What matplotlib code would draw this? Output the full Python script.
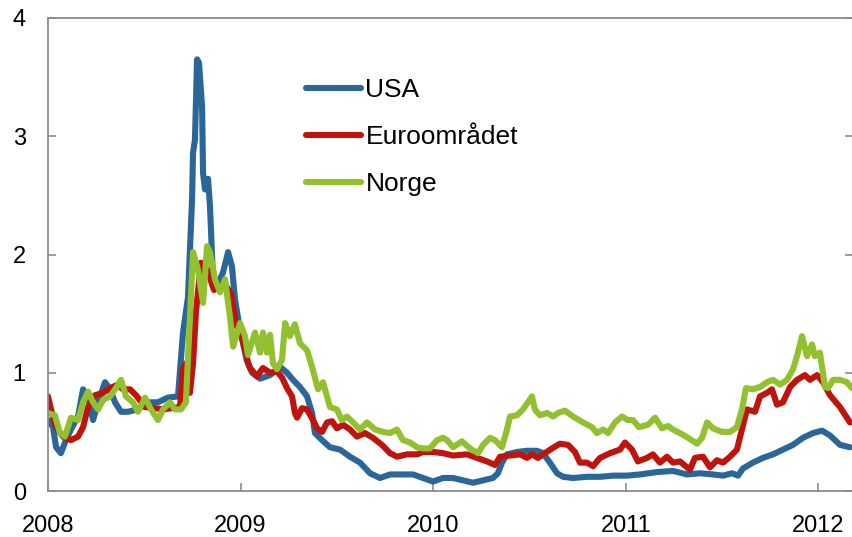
import matplotlib
matplotlib.use("Agg")
import matplotlib.pyplot as plt

plt.rcParams['font.family'] = ['Liberation Sans', 'DejaVu Sans']

# ---- data (fractional years, values) ----
usa_t = [2008.000, 2008.026, 2008.042, 2008.067, 2008.088, 2008.119, 2008.156, 2008.182, 2008.208, 2008.234,
         2008.260, 2008.296, 2008.322, 2008.348, 2008.379, 2008.415, 2008.467, 2008.519, 2008.571, 2008.623,
         2008.675, 2008.701, 2008.727, 2008.748, 2008.753, 2008.763, 2008.774, 2008.784, 2008.800, 2008.805,
         2008.815, 2008.831, 2008.841, 2008.852, 2008.857, 2008.877, 2008.893, 2008.909, 2008.935, 2008.955,
         2008.971, 2008.997,
         2009.033, 2009.059, 2009.101, 2009.153, 2009.205, 2009.241, 2009.272, 2009.308, 2009.345, 2009.371,
         2009.386, 2009.423, 2009.464, 2009.516, 2009.568, 2009.620, 2009.672, 2009.724, 2009.776, 2009.843,
         2009.895, 2009.947, 2009.999,
         2010.051, 2010.103, 2010.155, 2010.207, 2010.259, 2010.310, 2010.336, 2010.357, 2010.383, 2010.435,
         2010.487, 2010.539, 2010.570, 2010.606, 2010.643, 2010.674, 2010.726, 2010.798, 2010.866, 2010.933,
         2011.006, 2011.074, 2011.162, 2011.245, 2011.318, 2011.385, 2011.453, 2011.505, 2011.551, 2011.583,
         2011.608, 2011.660, 2011.712, 2011.764, 2011.816, 2011.868, 2011.920, 2011.972,
         2012.019, 2012.060, 2012.112, 2012.164]
usa_v = [0.60, 0.54, 0.37, 0.32, 0.41, 0.52, 0.63, 0.86, 0.80, 0.60,
         0.75, 0.92, 0.86, 0.75, 0.67, 0.67, 0.69, 0.75, 0.75, 0.79,
         0.80, 1.34, 1.64, 2.47, 2.86, 2.97, 3.65, 3.62, 3.25, 2.69,
         2.55, 2.64, 2.41, 1.98, 1.79, 1.73, 1.79, 1.85, 2.02, 1.90,
         1.62, 1.36,
         1.10, 1.00, 0.95, 0.98, 1.05, 1.00, 0.94, 0.88, 0.80, 0.66,
         0.49, 0.43, 0.37, 0.35, 0.29, 0.24, 0.15, 0.11, 0.14, 0.14,
         0.14, 0.11, 0.08,
         0.11, 0.11, 0.09, 0.07, 0.09, 0.11, 0.15, 0.24, 0.31, 0.33,
         0.34, 0.34, 0.32, 0.24, 0.15, 0.12, 0.11, 0.12, 0.12, 0.13,
         0.13, 0.14, 0.16, 0.17, 0.14, 0.15, 0.14, 0.13, 0.15, 0.13,
         0.19, 0.24, 0.28, 0.31, 0.35, 0.39, 0.45, 0.49,
         0.51, 0.47, 0.39, 0.37]

euro_t = [2008.000, 2008.016, 2008.042, 2008.078, 2008.119, 2008.156, 2008.182, 2008.208, 2008.244, 2008.286,
          2008.322, 2008.363, 2008.389, 2008.426, 2008.457, 2008.504, 2008.556, 2008.597, 2008.639, 2008.685,
          2008.701, 2008.716, 2008.737, 2008.753, 2008.768, 2008.794, 2008.826, 2008.862, 2008.914, 2008.950,
          2008.976,
          2009.012, 2009.038, 2009.049, 2009.085, 2009.116, 2009.153, 2009.189, 2009.215, 2009.241, 2009.267,
          2009.282, 2009.293, 2009.319, 2009.345, 2009.376, 2009.397, 2009.423, 2009.449, 2009.475, 2009.500,
          2009.532, 2009.568, 2009.604, 2009.646, 2009.687, 2009.734, 2009.776, 2009.812, 2009.864, 2009.916,
          2009.947, 2009.999,
          2010.051, 2010.103, 2010.175, 2010.227, 2010.279, 2010.321, 2010.347, 2010.399, 2010.451, 2010.487,
          2010.513, 2010.544, 2010.580, 2010.617, 2010.658, 2010.700, 2010.736, 2010.762, 2010.798, 2010.830,
          2010.866, 2010.918, 2010.970, 2010.996,
          2011.032, 2011.063, 2011.110, 2011.141, 2011.177, 2011.214, 2011.245, 2011.281, 2011.333, 2011.359,
          2011.401, 2011.437, 2011.473, 2011.505, 2011.541, 2011.577, 2011.603, 2011.629, 2011.671, 2011.697,
          2011.733, 2011.759, 2011.785, 2011.816, 2011.853, 2011.889, 2011.930, 2011.956, 2011.993,
          2012.024, 2012.060, 2012.112, 2012.164]
euro_v = [0.80, 0.69, 0.54, 0.46, 0.43, 0.46, 0.54, 0.71, 0.81, 0.83,
          0.87, 0.90, 0.86, 0.86, 0.81, 0.71, 0.70, 0.69, 0.70, 0.71,
          1.03, 1.08, 0.83, 1.08, 1.51, 1.93, 1.87, 1.70, 1.76, 1.67,
          1.41,
          1.27, 1.09, 1.04, 0.97, 1.04, 1.00, 1.01, 0.96, 0.87, 0.80,
          0.66, 0.62, 0.70, 0.69, 0.60, 0.53, 0.50, 0.58, 0.59, 0.53,
          0.56, 0.52, 0.46, 0.49, 0.45, 0.39, 0.32, 0.29, 0.31, 0.31,
          0.33, 0.33,
          0.32, 0.30, 0.31, 0.28, 0.25, 0.22, 0.29, 0.30, 0.31, 0.28,
          0.31, 0.28, 0.32, 0.36, 0.40, 0.39, 0.33, 0.24, 0.24, 0.21,
          0.28, 0.32, 0.35, 0.41,
          0.35, 0.25, 0.28, 0.31, 0.24, 0.29, 0.24, 0.25, 0.18, 0.28,
          0.29, 0.20, 0.26, 0.24, 0.29, 0.35, 0.52, 0.69, 0.67, 0.80,
          0.83, 0.86, 0.73, 0.75, 0.88, 0.94, 0.98, 0.94, 0.98,
          0.92, 0.81, 0.71, 0.58]

norge_t = [2008.000, 2008.036, 2008.062, 2008.088, 2008.119, 2008.156, 2008.182, 2008.208, 2008.234, 2008.260,
           2008.286, 2008.322, 2008.353, 2008.379, 2008.405, 2008.441, 2008.467, 2008.504, 2008.535, 2008.571,
           2008.597, 2008.633, 2008.659, 2008.691, 2008.716, 2008.737, 2008.753, 2008.779, 2008.805, 2008.826,
           2008.841, 2008.867, 2008.893, 2008.919, 2008.945, 2008.961, 2008.997,
           2009.023, 2009.038, 2009.075, 2009.101, 2009.116, 2009.137, 2009.153, 2009.168, 2009.189, 2009.215,
           2009.231, 2009.256, 2009.282, 2009.308, 2009.345, 2009.371, 2009.402, 2009.428, 2009.464, 2009.500,
           2009.526, 2009.552, 2009.584, 2009.620, 2009.656, 2009.698, 2009.739, 2009.776, 2009.812, 2009.843,
           2009.880, 2009.916, 2009.947, 2009.983,
           2010.020, 2010.051, 2010.072, 2010.103, 2010.149, 2010.191, 2010.233, 2010.259, 2010.295, 2010.321,
           2010.357, 2010.383, 2010.399, 2010.435, 2010.466, 2010.492, 2010.513, 2010.528, 2010.554, 2010.591,
           2010.622, 2010.648, 2010.684, 2010.726, 2010.778, 2010.824, 2010.850, 2010.882, 2010.908, 2010.944,
           2010.980,
           2011.011, 2011.037, 2011.068, 2011.115, 2011.152, 2011.188, 2011.219, 2011.245, 2011.281, 2011.323,
           2011.370, 2011.396, 2011.422, 2011.453, 2011.499, 2011.541, 2011.577, 2011.603, 2011.624, 2011.660,
           2011.697, 2011.733, 2011.764, 2011.801, 2011.837, 2011.868, 2011.889, 2011.915, 2011.941, 2011.967,
           2011.982,
           2012.008, 2012.034, 2012.050, 2012.076, 2012.112, 2012.148, 2012.174]
norge_v = [0.66, 0.64, 0.49, 0.46, 0.62, 0.60, 0.75, 0.84, 0.75, 0.69,
           0.77, 0.80, 0.87, 0.94, 0.80, 0.75, 0.67, 0.79, 0.69, 0.60,
           0.69, 0.75, 0.69, 0.69, 0.75, 1.47, 2.02, 1.87, 1.59, 2.07,
           2.02, 1.79, 1.68, 1.79, 1.47, 1.22, 1.42,
           1.31, 1.15, 1.34, 1.17, 1.34, 1.17, 1.32, 1.08, 1.03, 1.11,
           1.42, 1.31, 1.41, 1.25, 1.19, 1.05, 0.86, 0.92, 0.71, 0.69,
           0.60, 0.63, 0.58, 0.52, 0.58, 0.52, 0.50, 0.49, 0.52, 0.43,
           0.41, 0.37, 0.36, 0.36,
           0.43, 0.45, 0.43, 0.37, 0.42, 0.36, 0.32, 0.39, 0.45, 0.43,
           0.37, 0.52, 0.63, 0.64, 0.69, 0.75, 0.80, 0.69, 0.64, 0.66,
           0.63, 0.66, 0.68, 0.63, 0.58, 0.54, 0.49, 0.52, 0.49, 0.58,
           0.63,
           0.60, 0.60, 0.54, 0.56, 0.62, 0.53, 0.55, 0.52, 0.49, 0.45,
           0.40, 0.45, 0.58, 0.53, 0.50, 0.50, 0.54, 0.69, 0.87, 0.86,
           0.88, 0.92, 0.94, 0.90, 0.94, 1.03, 1.14, 1.31, 1.14, 1.24,
           1.14,
           1.17, 0.88, 0.87, 0.94, 0.94, 0.92, 0.87]

series_names = ["USA", "Euroområdet", "Norge"]
series_colors = ["#2B6698", "#C0130B", "#93C02E"]
x_ticks = [2008, 2009, 2010, 2011, 2012]
y_ticks = [0, 1, 2, 3, 4]

# ---- figure ----
fig = plt.figure(figsize=(8.52, 5.37), dpi=100)
ax = fig.add_axes([48 / 852, 46 / 537, 805 / 852, 473 / 537])

for t, v, name, col in zip([usa_t, euro_t, norge_t], [usa_v, euro_v, norge_v],
                           series_names, series_colors):
    ax.plot(t, v, color=col, lw=4.4, label=name, solid_joinstyle='round',
            solid_capstyle='round')

ax.set_xlim(2008, 2008 + 805 / 192.6)
ax.set_ylim(0, 4)
ax.set_xticks(x_ticks)
ax.set_xticklabels([str(x) for x in x_ticks])
ax.set_yticks(y_ticks)
ax.set_yticklabels([str(y) for y in y_ticks])

for s in ax.spines.values():
    s.set_color('#8C8C8C')
    s.set_linewidth(1.3)

ax.tick_params(axis='both', direction='in', length=6, width=1.2, color='#8C8C8C',
               labelsize=17, labelcolor='black')
ax.tick_params(axis='x', pad=17)
ax.tick_params(axis='y', pad=16, right=True)

leg = ax.legend(loc='upper left', bbox_to_anchor=(306 / 852, 1 - 78 / 537),
                bbox_transform=fig.transFigure, frameon=False, fontsize=19,
                handlelength=2.1, handletextpad=0.15, labelspacing=0.88,
                borderpad=0, borderaxespad=0)
for line in leg.get_lines():
    line.set_linewidth(4.4)

fig.savefig("out.png", dpi=100)
